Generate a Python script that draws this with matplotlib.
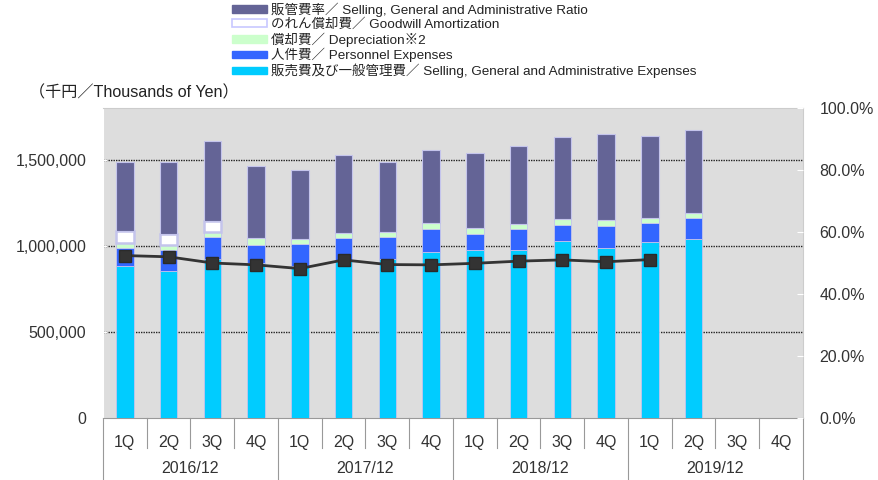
import numpy as np
import matplotlib
matplotlib.use("Agg")
import matplotlib.pyplot as plt
from matplotlib.patches import Patch
from matplotlib.ticker import FuncFormatter

plt.rcParams['font.family'] = ['Liberation Sans', 'Noto Sans CJK JP', 'DejaVu Sans']

years = ["2016/12", "2017/12", "2018/12", "2019/12"]
quarters = ["1Q", "2Q", "3Q", "4Q"]

# thousands of yen, 2016/12 1Q .. 2019/12 2Q
sga_base = [880, 855, 923, 899, 880, 909, 922, 961, 977, 977, 1029, 987, 1023, 1042]
personnel = [107, 122, 128, 106, 130, 136, 131, 138, 93, 120, 89, 126, 112, 120]
depreciation = [29, 29, 27, 39, 31, 29, 29, 33, 31, 31, 35, 35, 29, 27]
goodwill = [67, 62, 64, 0, 0, 0, 0, 0, 0, 0, 0, 0, 0, 0]
other = [401, 420, 465, 420, 401, 451, 407, 426, 438, 449, 477, 502, 475, 484]
# SG&A ratio (%)
ratio = [52.4, 52.0, 50.0, 49.4, 48.2, 51.0, 49.5, 49.4, 49.9, 50.6, 51.0, 50.4, 51.1]

labels = [
    "販管費率／ Selling, General and Administrative Ratio",
    "のれん償却費／ Goodwill Amortization",
    "償却費／ Depreciation※2",
    "人件費／ Personnel Expenses",
    "販売費及び一般管理費／ Selling, General and Administrative Expenses",
]
c_other = "#646496"
c_goodwill = "#FFFFFF"
c_dep = "#CCFFCC"
c_pers = "#3366FF"
c_sga = "#00CCFF"
edge = "#C4C4EC"

n_slots = len(years) * len(quarters)
x = np.arange(len(sga_base))

fig = plt.figure(figsize=(8.79, 4.8), dpi=100)
ax = fig.add_axes([103 / 879, 1 - 418 / 480, 700 / 879, 310 / 480])
ax.set_facecolor("#DDDDDD")

w = 0.4
bottom = np.zeros(len(x))
for vals, col, lw in [(sga_base, c_sga, 0.6), (personnel, c_pers, 0.6),
                      (depreciation, c_dep, 0.6), (goodwill, c_goodwill, 1.8),
                      (other, c_other, 0.8)]:
    v = np.array(vals) * 1000
    ax.bar(x, v, w, bottom=bottom, color=col,
           edgecolor=[edge if vv > 0 else "none" for vv in v], linewidth=lw, zorder=3)
    bottom += v

ax.set_xlim(-0.5, n_slots - 0.5)
ax.set_ylim(0, 1800000)
ax.set_yticks([0, 500000, 1000000, 1500000])
ax.yaxis.set_major_formatter(FuncFormatter(lambda v, p: f"{int(v):,}"))
for g in [500000, 1000000, 1500000]:
    ax.axhline(g, color="#222222", lw=1.0, ls=(0, (1, 0.8)), zorder=1)
ax.tick_params(axis="y", direction="in", length=3, color="white", labelsize=11.5,
               labelcolor="#333333", pad=12)

for s in ["top", "right"]:
    ax.spines[s].set_color("#CCCCCC")
ax.spines["left"].set_color("white")
ax.spines["bottom"].set_color("#999999")

# two-level category axis
ax.set_xticks(np.arange(n_slots))
ax.set_xticklabels(quarters * len(years))
ax.tick_params(axis="x", length=0, labelsize=11.5, labelcolor="#333333", pad=12)
trans = ax.get_xaxis_transform()
for i in range(n_slots + 1):
    xb = i - 0.5
    y1 = -0.2 if i % 4 == 0 else -0.097
    ax.plot([xb, xb], [0, y1], color="#999999", lw=0.8, transform=trans, clip_on=False)
for j, yr in enumerate(years):
    ax.text(j * 4 + 1.5, -0.163, yr, transform=trans, ha="center", va="center",
            fontsize=11.5, color="#333333")

ax2 = ax.twinx()
ax2.set_ylim(0, 100)
ax2.set_yticks(np.arange(0, 101, 20))
ax2.yaxis.set_major_formatter(FuncFormatter(lambda v, p: f"{v:.1f}%"))
ax2.tick_params(axis="y", direction="in", length=4, color="white", labelsize=11.5,
                labelcolor="#333333", pad=12)
for s in ax2.spines.values():
    s.set_visible(False)
ax2.plot(np.arange(len(ratio)), ratio, color="#333333", lw=2, marker="s",
         markersize=8, markerfacecolor="#333333", markeredgecolor="#2a2a2a", zorder=5)

fig.text(29 / 879, 1 - 93 / 480, "（千円／Thousands of Yen）", fontsize=11.6,
         color="#222222", va="center", ha="left")

handles = [Patch(facecolor=c_other, edgecolor=c_other),
           Patch(facecolor=c_goodwill, edgecolor="#C8C8FF", linewidth=1.2),
           Patch(facecolor=c_dep, edgecolor=c_dep),
           Patch(facecolor=c_pers, edgecolor=c_pers),
           Patch(facecolor=c_sga, edgecolor=c_sga)]
leg = fig.legend(handles, labels, loc="upper left", bbox_to_anchor=(223 / 879, 1.014),
                 frameon=False, fontsize=9.7, handlelength=2.6, handleheight=0.5,
                 handletextpad=0.3, labelspacing=0.1, borderpad=0.2)
for t in leg.get_texts():
    t.set_color("#222222")

fig.savefig("out.png", dpi=100)
